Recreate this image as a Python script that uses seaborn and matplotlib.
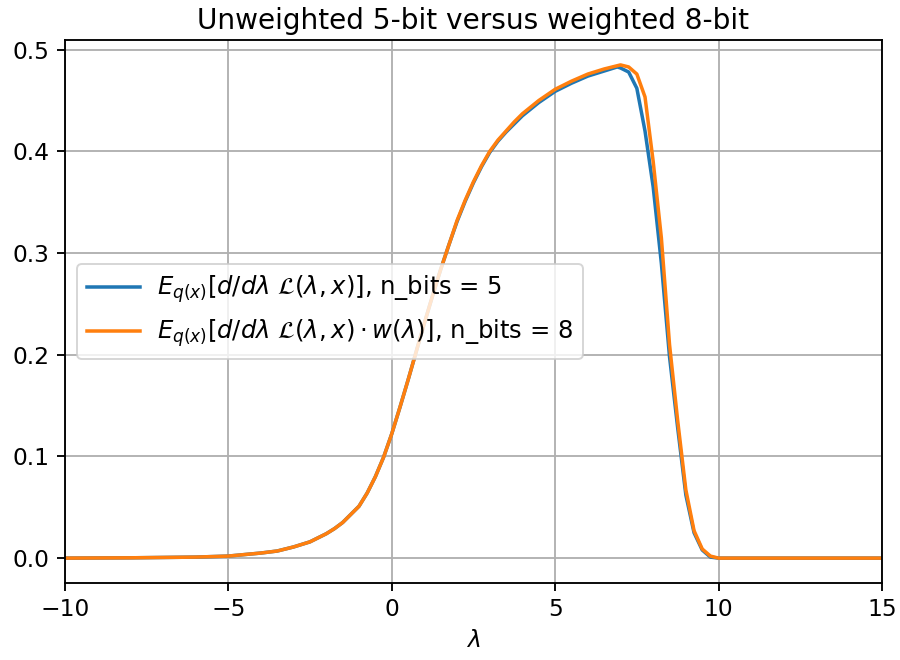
import numpy as np
import pandas as pd
import seaborn as sns
import matplotlib
matplotlib.use("Agg")
import matplotlib.pyplot as plt

# lambda grid and expected gradients
lam_5bit = [-10, -8, -6, -5, -4, -3.5, -3, -2.5, -2, -1.75, -1.5, -1.25, -1, -0.75, -0.5, -0.25,
            0, 0.25, 0.5, 0.75, 1, 1.25, 1.5, 1.75, 2, 2.25, 2.5, 2.75, 3, 3.25, 3.5, 3.75, 4,
            4.5, 5, 5.5, 6, 6.5, 6.9, 7.0, 7.25, 7.5, 7.75, 8, 8.25, 8.5, 8.75, 9, 9.25, 9.5, 9.75,
            10, 12, 15]
grad_5bit = [0, 0.0003, 0.001, 0.002, 0.005, 0.007, 0.011, 0.016, 0.024, 0.029, 0.035, 0.043,
             0.051, 0.064, 0.080, 0.099, 0.122, 0.148, 0.175, 0.203, 0.231, 0.258, 0.284, 0.308,
             0.331, 0.351, 0.369, 0.385, 0.399, 0.410, 0.419, 0.427, 0.435, 0.448, 0.459, 0.467,
             0.474, 0.479, 0.483, 0.482, 0.478, 0.462, 0.42, 0.365, 0.29, 0.198, 0.128, 0.062,
             0.025, 0.008, 0.001, 0, 0, 0]

lam_8bit = [-10, -8, -6, -5, -4, -3.5, -3, -2.5, -2, -1.75, -1.5, -1.25, -1, -0.75, -0.5, -0.25,
            0, 0.25, 0.5, 0.75, 1, 1.25, 1.5, 1.75, 2, 2.25, 2.5, 2.75, 3, 3.25, 3.5, 3.75, 4,
            4.5, 5, 5.5, 6, 6.5, 7.0, 7.25, 7.5, 7.75, 8, 8.25, 8.5, 8.75, 9, 9.25, 9.5, 9.75,
            10, 12, 15]
grad_8bit = [0, 0.0003, 0.001, 0.002, 0.005, 0.007, 0.011, 0.016, 0.024, 0.029, 0.035, 0.043,
             0.051, 0.064, 0.080, 0.099, 0.122, 0.148, 0.175, 0.203, 0.231, 0.258, 0.284, 0.308,
             0.332, 0.352, 0.370, 0.386, 0.400, 0.411, 0.420, 0.429, 0.437, 0.450, 0.461, 0.469,
             0.476, 0.481, 0.485, 0.483, 0.476, 0.4535, 0.39, 0.315, 0.21, 0.135, 0.067, 0.027,
             0.009, 0.002, 0, 0, 0]

label_5 = r"$E_{q(x)}[d/d\lambda\ \mathcal{L}(\lambda, x)]$, n_bits = 5"
label_8 = r"$E_{q(x)}[d/d\lambda\ \mathcal{L}(\lambda, x) \cdot w(\lambda)]$, n_bits = 8"

df = pd.concat([
    pd.DataFrame({"lam": lam_5bit, "grad": grad_5bit, "series": label_5}),
    pd.DataFrame({"lam": lam_8bit, "grad": grad_8bit, "series": label_8}),
])

plt.rcParams.update({
    "font.size": 12,
    "axes.linewidth": 0.96,
    "grid.linewidth": 0.96,
    "xtick.major.width": 0.96,
    "ytick.major.width": 0.96,
    "xtick.major.size": 4.2,
    "ytick.major.size": 4.2,
    "xtick.labelsize": 12,
    "ytick.labelsize": 12,
    "legend.fontsize": 12.5,
    "legend.handlelength": 2.2,
    "legend.handletextpad": 0.7,
})

fig, ax = plt.subplots(figsize=(900 / 140, 660 / 140), dpi=140)
fig.subplots_adjust(left=0.072, right=0.98, top=0.939, bottom=0.117)

sns.lineplot(data=df, x="lam", y="grad", hue="series", palette=["#1f77b4", "#ff7f0e"],
             linewidth=1.8, sort=False, ax=ax)

ax.set_xlim(-10, 15)
ax.grid(True)
ax.set_title("Unweighted 5-bit versus weighted 8-bit", fontsize=14.4)
ax.set_xlabel(r"$\lambda$", fontsize=12)
ax.set_ylabel("")
sns.move_legend(ax, "center left", title=None)

plt.savefig("out.png", dpi=140)
